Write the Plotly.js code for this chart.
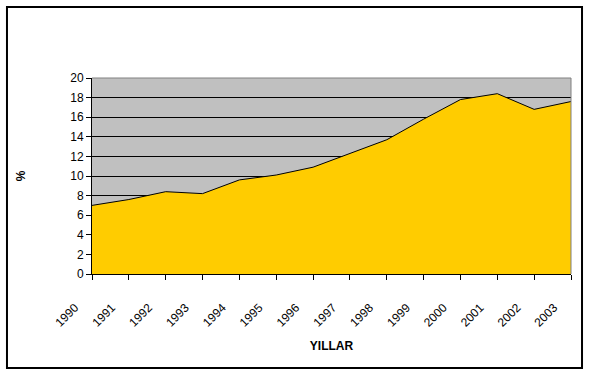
<!DOCTYPE html>
<html>
<head>
<meta charset="utf-8">
<script src="https://cdn.plot.ly/plotly-3.0.1.min.js"></script>
<style>html,body{margin:0;padding:0;background:#fff;}</style>
</head>
<body>
<div id="chart" style="width:590px;height:377px;"></div>
<script>
var years = ['1990','1991','1992','1993','1994','1995','1996','1997','1998','1999','2000','2001','2002','2003'];
var values = [7.0, 7.6, 8.4, 8.2, 9.6, 10.1, 10.9, 12.3, 13.7, 15.8, 17.8, 18.4, 16.8, 17.6];
var yTicks = [0,2,4,6,8,10,12,14,16,18,20];

var trace = {
  x: years, y: values, type: 'scatter', mode: 'lines',
  fill: 'tozeroy', fillcolor: '#FFCC00',
  line: {color: '#000000', width: 1}, hoverinfo: 'skip'
};

var font = {family: 'Arial, "Liberation Sans", sans-serif', size: 12, color: '#000'};

var layout = {
  width: 590, height: 377,
  margin: {l: 92, r: 19, t: 78, b: 103, pad: 0},
  paper_bgcolor: '#FFFFFF', plot_bgcolor: '#C0C0C0',
  showlegend: false, font: font,
  xaxis: {
    type: 'category', range: [0, 13], showgrid: false,
    showline: true, linecolor: '#000', linewidth: 1,
    ticks: 'outside', ticklen: 5, tickcolor: '#000',
    tickangle: -45, tickfont: font, zeroline: false,
    ticklabelstandoff: 16, ticklabelshift: -17,
    title: {text: 'YILLAR', font: {family: font.family, size: 12, color: '#000', weight: 'bold'}, standoff: 12}
  },
  yaxis: {
    range: [0, 20], tickvals: yTicks, ticktext: yTicks.map(String),
    showgrid: true, gridcolor: '#000', gridwidth: 1,
    showline: true, linecolor: '#000', linewidth: 1,
    ticks: 'outside', ticklen: 5, tickcolor: '#000', zeroline: false,
    tickfont: font,
    title: {text: '%', font: {family: font.family, size: 12, color: '#000', weight: 'bold'}, standoff: 42}
  },
  shapes: [
    {type: 'line', xref: 'paper', yref: 'paper', x0: 0, x1: 1, y0: 1, y1: 1, line: {color: '#808080', width: 1}, layer: 'above'},
    {type: 'line', xref: 'paper', yref: 'paper', x0: 1, x1: 1, y0: 0, y1: 1, line: {color: '#808080', width: 1}, layer: 'above'},
    {type: 'rect', xref: 'paper', yref: 'paper', x0: -0.1775, x1: 1.023, y0: -0.4796, y1: 1.362, line: {color: '#000', width: 2}}
  ]
};

Plotly.newPlot('chart', [trace], layout, {displayModeBar: false, staticPlot: true});
</script>
</body>
</html>
